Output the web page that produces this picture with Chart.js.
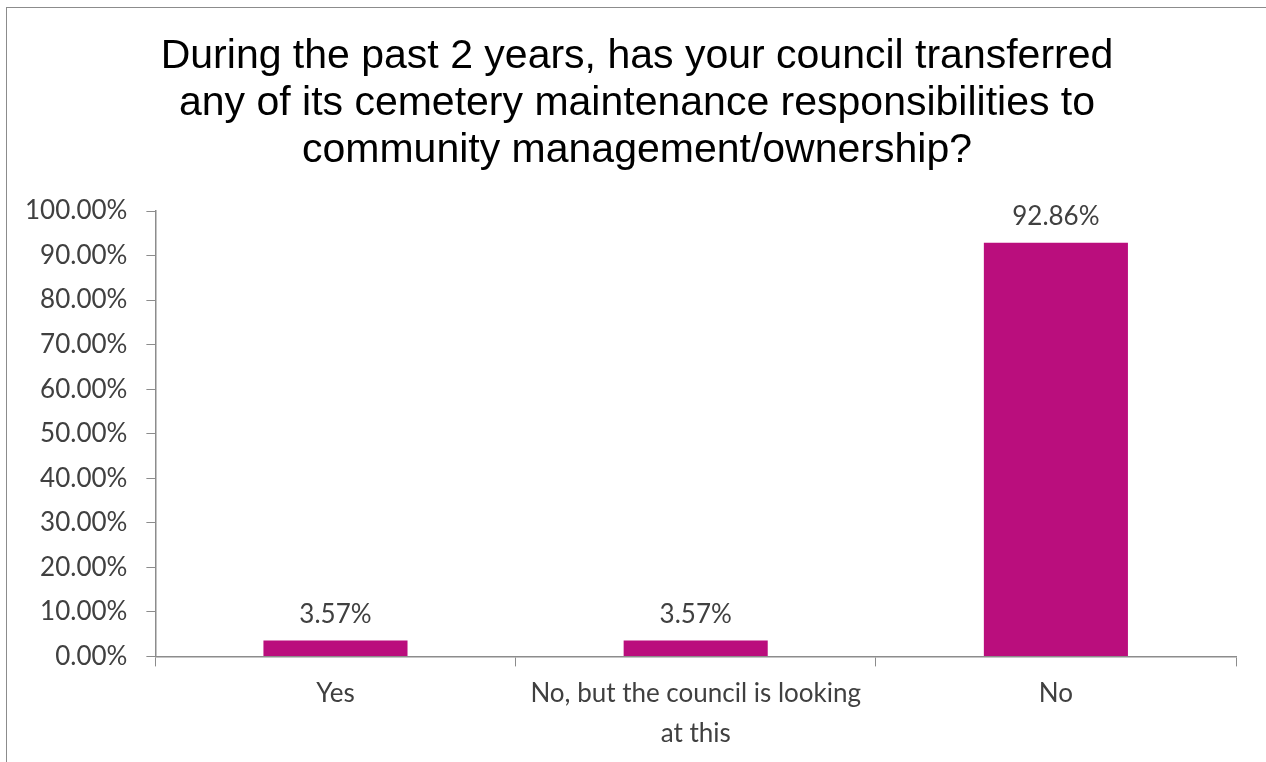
<!DOCTYPE html>
<html>
<head>
<meta charset="utf-8">
<script src="https://cdn.jsdelivr.net/npm/chart.js@4"></script>
<style>
  html, body { margin: 0; padding: 0; background: #fff; }
  #frame {
    position: absolute; left: 6px; top: 7px; width: 1260px; height: 755px;
    border-left: 1px solid #8c8c8c; border-top: 1px solid #8c8c8c;
  }
  #wrap { position: absolute; left: 0; top: 0; width: 1266px; height: 762px; }
</style>
</head>
<body>
<div id="frame"></div>
<div id="wrap"><canvas id="chart"></canvas></div>
<script>
const titleLines = [
  'During the past 2 years, has your council transferred',
  'any of its cemetery maintenance responsibilities to',
  'community management/ownership?'
];
const categories = [
  'Yes',
  ['No, but the council is looking', 'at this'],
  'No'
];
const responses = [3.57, 3.57, 92.86];

const axisGrey = '#8c8c8c';
const textGrey = '#404040';
const labelFont = { family: 'Lato, "Open Sans", sans-serif', size: 26 };

// three-line heading drawn above the plot
const heading = {
  id: 'heading',
  afterDraw(chart) {
    const ctx = chart.ctx;
    ctx.save();
    ctx.font = '41px "Liberation Sans", Arial, sans-serif';
    ctx.fillStyle = '#000';
    ctx.textAlign = 'center';
    ctx.textBaseline = 'alphabetic';
    titleLines.forEach((line, i) => ctx.fillText(line, 637, 68 + i * 47));
    ctx.restore();
  }
};

// value labels above each bar
const barValues = {
  id: 'barValues',
  afterDatasetsDraw(chart) {
    const ctx = chart.ctx;
    const meta = chart.getDatasetMeta(0);
    ctx.save();
    ctx.font = `${labelFont.size}px ${labelFont.family}`;
    ctx.fillStyle = textGrey;
    ctx.textAlign = 'center';
    ctx.textBaseline = 'middle';
    meta.data.forEach((bar, i) => {
      ctx.fillText(responses[i].toFixed(2) + '%', bar.x, bar.y - 26);
    });
    ctx.restore();
  }
};

new Chart(document.getElementById('chart'), {
  type: 'bar',
  data: {
    labels: categories,
    datasets: [{
      data: responses,
      backgroundColor: '#ba0e7d',
      barPercentage: 0.4,
      categoryPercentage: 1.0
    }]
  },
  options: {
    responsive: true,
    maintainAspectRatio: false,
    animation: false,
    layout: { padding: { left: 6, right: 30, top: 211, bottom: 1 } },
    plugins: {
      legend: { display: false },
      tooltip: { enabled: false },
      title: { display: false }
    },
    scales: {
      x: {
        grid: { display: true, drawOnChartArea: false, offset: true, color: axisGrey, tickLength: 10 },
        border: { display: true, color: axisGrey, width: 1.5 },
        ticks: { color: textGrey, font: { ...labelFont, lineHeight: 1.55 }, padding: 7, maxRotation: 0 }
      },
      y: {
        min: 0,
        max: 100,
        grid: { display: true, drawOnChartArea: false, color: axisGrey, tickLength: 9 },
        border: { display: true, color: axisGrey, width: 1.5 },
        ticks: {
          stepSize: 10,
          color: textGrey,
          font: labelFont,
          padding: 19,
          callback: v => v.toFixed(2) + '%'
        }
      }
    }
  },
  plugins: [barValues, heading]
});
</script>
</body>
</html>
